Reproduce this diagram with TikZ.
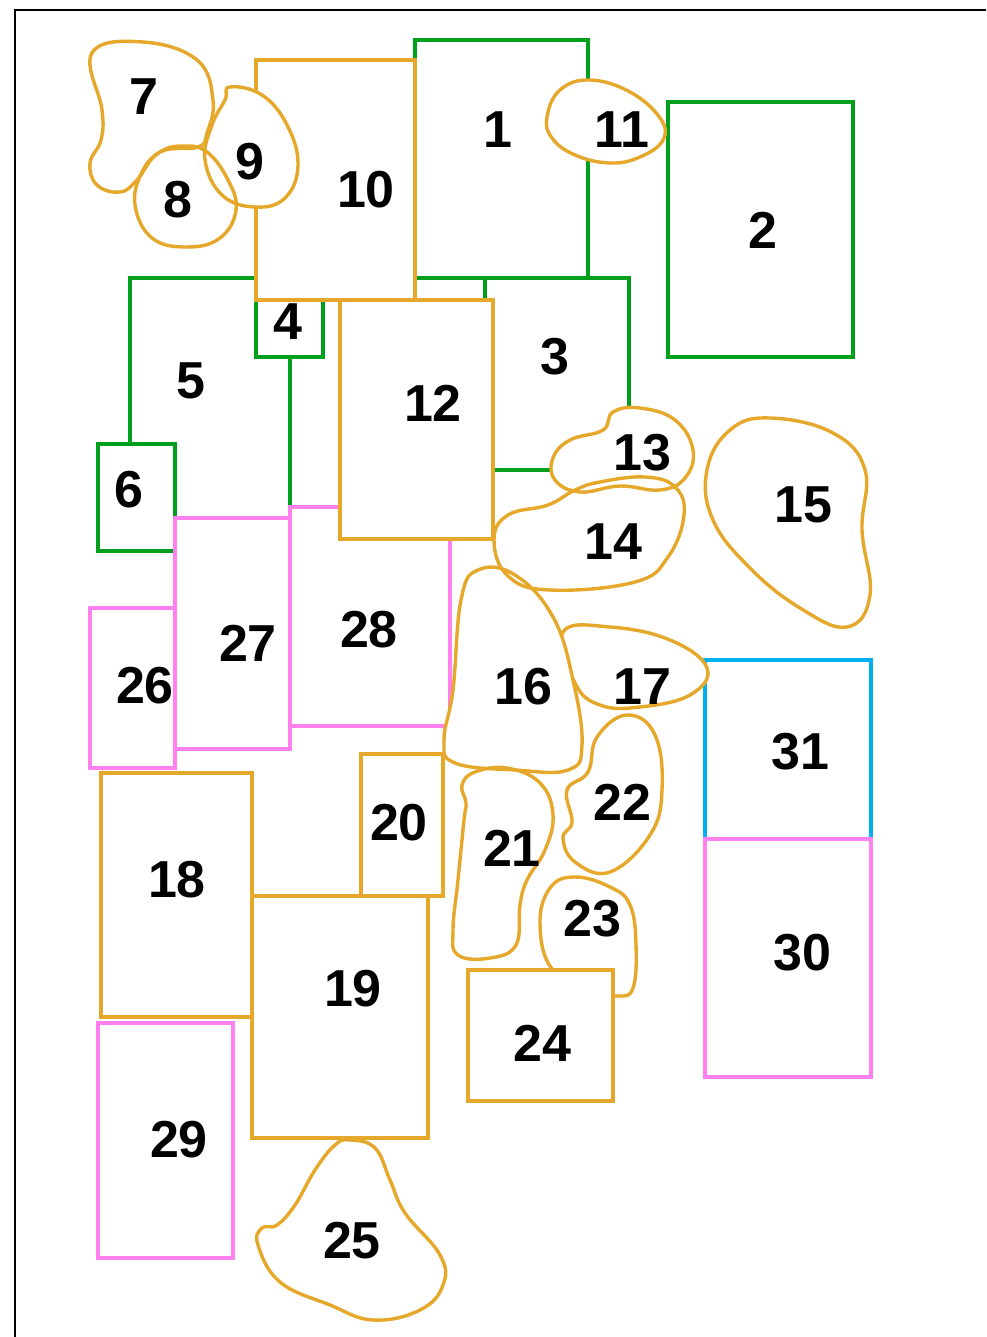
\documentclass[tikz,border=0pt]{standalone}
\usepackage{fontspec}
\setmainfont{Liberation Sans}
\definecolor{cgreen}{RGB}{0,160,30}
\definecolor{cgold}{RGB}{229,168,42}
\definecolor{cpink}{RGB}{255,128,238}
\definecolor{cblue}{RGB}{0,176,240}
\tikzset{
  gbox/.style={draw=cgreen,line width=3.4pt,fill=white},
  obox/.style={draw=cgold,line width=3.4pt,fill=white},
  pbox/.style={draw=cpink,line width=3.4pt,fill=white},
  bbox/.style={draw=cblue,line width=3.4pt,fill=white},
  blob/.style={draw=cgold,line width=3.4pt},
  lbl/.style={font=\fontsize{52}{60}\selectfont\bfseries,inner sep=0pt}
}
\def\shpVII{plot[smooth cycle,tension=0.7] coordinates {(92,53)(143,42)(197,60)(213,100)(207,133)(198,147)(160,152)(137,180)(120,192)(97,185)(90,163)(101,140)(102,110)}}
\def\shpVIII{plot[smooth cycle,tension=0.7] coordinates {(183,146)(207,152)(228,180)(236,210)(220,238)(187,247)(152,238)(135,205)(142,172)(160,152)}}
\def\shpIX{plot[smooth cycle,tension=0.7] coordinates {(230,87)(262,95)(287,125)(298,165)(285,198)(255,207)(222,195)(205,160)(212,125)(225,100)}}
\def\shpXI{plot[smooth cycle,tension=0.7] coordinates {(547,117)(560,90)(590,80)(630,92)(660,118)(663,140)(640,157)(610,163)(575,155)(552,138)}}
\def\shpXIII{plot[smooth cycle,tension=0.7] coordinates {(613,412)(640,408)(675,420)(693,450)(685,478)(660,490)(620,486)(580,492)(555,480)(553,458)(570,440)(603,430)}}
\def\shpXIV{plot[smooth cycle,tension=0.7] coordinates {(600,482)(645,477)(675,487)(684,515)(668,557)(635,582)(550,590)(508,576)(494,540)(508,515)(548,505)(575,490)}}
\def\shpXV{plot[smooth cycle,tension=0.7] coordinates {(730,430)(770,418)(833,433)(865,470)(862,530)(870,595)(847,627)(800,608)(750,568)(713,520)(707,470)}}
\def\shpXVI{plot[smooth cycle,tension=0.7] coordinates {(478,570)(515,575)(553,617)(573,680)(582,745)(568,770)(515,770)(455,763)(444,740)(453,690)(461,600)}}
\def\shpXVII{plot[smooth cycle,tension=0.7] coordinates {(563,632)(610,627)(670,640)(707,668)(690,695)(640,707)(600,705)(575,683)}}
\def\shpXXI{plot[smooth cycle,tension=0.7] coordinates {(466,803)(462,785)(475,772)(507,768)(540,783)(553,815)(545,850)(527,880)(520,905)(516,945)(490,958)(458,955)(453,930)(458,880)(464,820)}}
\def\shpXXII{plot[smooth cycle,tension=0.7] coordinates {(597,737)(627,715)(655,735)(662,790)(650,835)(610,872)(575,862)(563,838)(572,822)(567,790)(588,772)}}
\def\shpXXIII{plot[smooth cycle,tension=0.7] coordinates {(553,970)(540,925)(550,888)(575,877)(610,887)(630,905)(636,945)(633,988)(618,996)(595,990)}}
\def\shpXXV{plot[smooth cycle,tension=0.7] coordinates {(350,1140)(375,1148)(390,1180)(405,1213)(440,1255)(443,1285)(420,1310)(373,1320)(330,1305)(280,1282)(258,1245)(262,1228)(277,1225)(295,1205)(315,1170)(335,1145)}}
\begin{document}
\begin{tikzpicture}[x=1pt,y=-1pt]
\useasboundingbox (0,0) rectangle (986,1337);
\fill[white] (0,0) rectangle (986,1337);
\draw[line width=2pt] (15,1337) -- (15,10) -- (986,10);
% boxes
\draw[gbox] (130,278) rectangle (290,530);
\draw[gbox] (415,40) rectangle (588,278);
\draw[gbox] (485,278) rectangle (629,470);
\draw[gbox] (668,102) rectangle (853,357);
\draw[gbox] (256,290) rectangle (323,357);
\draw[gbox] (98,444) rectangle (175,551);
\draw[obox] (256,60) rectangle (415,300);
\draw[pbox] (290,507) rectangle (450,726);
\draw[obox] (340,300) rectangle (493,539);
\draw[pbox] (90,608) rectangle (175,768);
\draw[pbox] (175,518) rectangle (290,749);
\draw[bbox] (705,660) rectangle (871,839);
\draw[pbox] (705,839) rectangle (871,1077);
\draw[obox] (101,773) rectangle (252,1017);
\draw[pbox] (98,1023) rectangle (233,1258);
\draw[obox] (361,754) rectangle (443,896);
\draw[blob,fill=white] \shpXXV;
\draw[obox] (252,896) rectangle (428,1138);
\draw[blob,fill=white] \shpXXIII;
\draw[obox] (468,970) rectangle (613,1101);
% blobs
\fill[white] \shpVII; \fill[white] \shpVIII; \fill[white] \shpIX;
\draw[blob] \shpVII; \draw[blob] \shpVIII; \draw[blob] \shpIX;
\draw[blob,fill=white] \shpXI;
\draw[blob,fill=white] \shpXV;
\draw[blob,fill=white] \shpXVII;
\fill[white] \shpXIII; \fill[white] \shpXIV; \fill[white] \shpXVI; \fill[white] \shpXXI; \fill[white] \shpXXII;
\draw[blob] \shpXIII; \draw[blob] \shpXIV; \draw[blob] \shpXVI; \draw[blob] \shpXXI; \draw[blob] \shpXXII;
% labels
\node[lbl] (l1) at (498,130) {1};
\node[lbl] (l2) at (763,230) {2};
\node[lbl] (l3) at (555,357) {3};
\node[lbl] (l4) at (288,322) {4};
\node[lbl] (l5) at (191,381) {5};
\node[lbl] (l6) at (129,490) {6};
\node[lbl] (l7) at (144,97) {7};
\node[lbl] (l8) at (178,200) {8};
\node[lbl] (l9) at (250,162) {9};
\node[lbl] (l10) at (366,190) {10};
\node[lbl] (l11) at (622,130) {11};
\node[lbl] (l12) at (433,403) {12};
\node[lbl] (l13) at (642,453) {13};
\node[lbl] (l14) at (613,542) {14};
\node[lbl] (l15) at (803,505) {15};
\node[lbl] (l16) at (523,687) {16};
\node[lbl] (l17) at (642,687) {17};
\node[lbl] (l18) at (177,880) {18};
\node[lbl] (l19) at (353,989) {19};
\node[lbl] (l20) at (399,823) {20};
\node[lbl] (l21) at (512,848) {21};
\node[lbl] (l22) at (622,802) {22};
\node[lbl] (l23) at (592,919) {23};
\node[lbl] (l24) at (542,1043) {24};
\node[lbl] (l25) at (352,1241) {25};
\node[lbl] (l26) at (145,686) {26};
\node[lbl] (l27) at (248,643) {27};
\node[lbl] (l28) at (369,630) {28};
\node[lbl] (l29) at (179,1140) {29};
\node[lbl] (l30) at (802,953) {30};
\node[lbl] (l31) at (800,752) {31};
\end{tikzpicture}
\end{document}
